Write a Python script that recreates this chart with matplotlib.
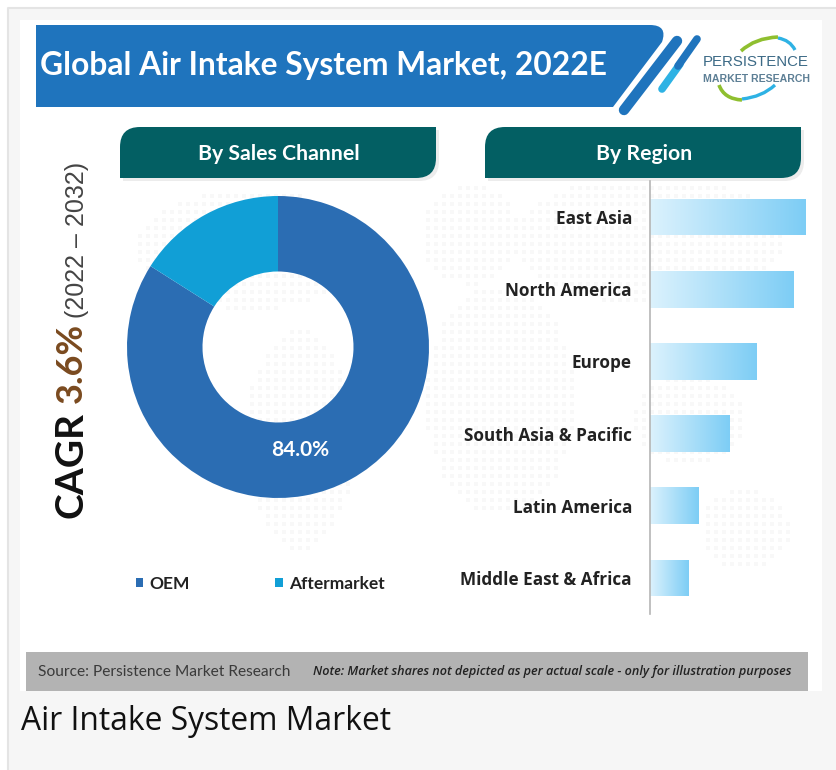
import numpy as np
import matplotlib
matplotlib.use('Agg')
import matplotlib.pyplot as plt
from matplotlib.patches import Rectangle, PathPatch
from matplotlib.path import Path

channels = ['OEM', 'Aftermarket']
channel_share = [84.0, 16.0]
channel_colors = ['#2b6db3', '#119fd6']

regions = ['East Asia', 'North America', 'Europe', 'South Asia & Pacific',
           'Latin America', 'Middle East & Africa']
region_index = [100, 92, 68, 51, 31, 25]

W, H = 836, 770
fig = plt.figure(figsize=(W / 100, H / 100), dpi=100, facecolor='#f6f6f6')
plt.rcParams['font.family'] = ['Open Sans', 'DejaVu Sans']


def header_path(x0, y0, x1, y1, r):
    # rounded top-left and bottom-right corners only
    verts = [(x0, y1), (x0, y0 + r), (x0, y0), (x0 + r, y0), (x1, y0), (x1, y1 - r),
             (x1, y1), (x1 - r, y1), (x0, y1)]
    codes = [Path.MOVETO, Path.LINETO, Path.CURVE3, Path.CURVE3, Path.LINETO, Path.LINETO,
             Path.CURVE3, Path.CURVE3, Path.CLOSEPOLY]
    return Path(verts, codes)


# page, in pixels
bg = fig.add_axes([0, 0, 1, 1])
bg.set_xlim(0, W)
bg.set_ylim(H, 0)
bg.axis('off')
bg.add_patch(Rectangle((0, 0), W, 8, color='white', lw=0))
bg.add_patch(Rectangle((0, 0), 8, H, color='white', lw=0))
bg.plot([8, 8, W], [H, 8, 8], color='#e4e4e4', lw=1.5)
bg.add_patch(Rectangle((20, 20), 802, 671, color='white', lw=0))

# faint dotted world map
gx, gy = np.meshgrid(np.arange(132, 800, 8), np.arange(188, 640, 8))
blobs = [(250, 250, 115, 60), (300, 440, 55, 110), (470, 235, 50, 50), (500, 400, 75, 115),
         (650, 240, 135, 65), (690, 420, 55, 45), (745, 530, 45, 40)]
mask = np.zeros(gx.shape, dtype=bool)
for cx, cy, rx, ry in blobs:
    mask |= ((gx - cx) / rx) ** 2 + ((gy - cy) / ry) ** 2 < 1
bg.scatter(gx[mask], gy[mask], s=9, marker='s', color='#f8f8f8', lw=0)

# title banner
banner = Path([(36, 25), (650, 25), (668, 25), (662, 42), (613, 107), (36, 107), (36, 25)],
              [Path.MOVETO, Path.LINETO, Path.CURVE3, Path.CURVE3, Path.LINETO, Path.LINETO,
               Path.CLOSEPOLY])
bg.add_patch(PathPatch(banner, fc='#1f74bd', ec='none'))
bg.plot([677, 624], [41, 110], color='#1f74bd', lw=7.5, solid_capstyle='round')
bg.plot([680, 662], [64, 89], color='#2eb2e4', lw=5.5, solid_capstyle='round')
bg.plot([697, 678], [39, 66], color='#1f74bd', lw=5.5, solid_capstyle='round')
bg.text(40, 65, 'Global Air Intake System Market, 2022E', color='white', fontsize=22.9,
        fontweight='bold', family=['Lato', 'DejaVu Sans'], va='center')

# logo
for verts, col, lw in [([(741, 51), (755, 38), (778, 37)], '#8fbf2f', 2.6),
                       ([(778, 38), (790, 40), (795, 50)], '#2eb2e4', 2.4),
                       ([(719, 85), (724, 99), (742, 100)], '#8fbf2f', 2.6),
                       ([(742, 99), (762, 97), (775, 85)], '#2eb2e4', 2.4)]:
    bg.add_patch(PathPatch(Path(verts, [Path.MOVETO, Path.CURVE3, Path.CURVE3]),
                           fc='none', ec=col, lw=lw))
bg.text(755.5, 62, 'PERSISTENCE', color='#3c6a86', fontsize=10.8, ha='center', va='center',
        family=['Liberation Sans Narrow', 'Liberation Sans'])
bg.text(756.5, 79, 'MARKET RESEARCH', color='#5d7f95', fontsize=7.6, ha='center', va='center',
        fontweight='bold', family=['Liberation Sans', 'DejaVu Sans'])

# section headers
for x0, x1, label in [(120, 436, 'By Sales Channel'), (485, 801, 'By Region')]:
    bg.add_patch(PathPatch(header_path(x0 + 3, 130, x1 + 3, 181, 20), fc='#ececec', ec='none'))
    bg.add_patch(PathPatch(header_path(x0, 127, x1, 178, 20), fc='#035f63', ec='none'))
    bg.text((x0 + x1) / 2 + 1, 154, label, color='white', fontsize=15.3, fontweight='bold',
            ha='center', va='center', family=['Lato', 'DejaVu Sans'])

# rotated CAGR text
bg.text(82, 518, 'CAGR', color='#111111', fontsize=28, fontweight='bold', rotation=90,
        rotation_mode='anchor', ha='left', va='baseline', family=['Lato', 'DejaVu Sans'])
bg.text(82, 403, '3.6%', color='#7a4a1f', fontsize=26, fontweight='bold', rotation=90,
        rotation_mode='anchor', ha='left', va='baseline', family=['Lato', 'DejaVu Sans'])
bg.text(84, 318, '(2022 – 2032)', color='#444444', fontsize=18, rotation=90,
        rotation_mode='anchor', ha='left', va='baseline', family=['Liberation Sans', 'DejaVu Sans'])

# footer
bg.add_patch(Rectangle((26, 652), 782, 39, color='#b3b3b3', lw=0))
bg.text(38, 672, 'Source: Persistence Market Research', color='#3a3a3a', fontsize=11.2, va='center',
        family=['Lato', 'DejaVu Sans'])
bg.text(313, 672, 'Note: Market shares not depicted as per actual scale - only for illustration purposes',
        color='#222222', fontsize=9.05, style='italic', fontweight='semibold', va='center')
bg.text(21, 721, 'Air Intake System Market', color='#111111', fontsize=22.9, va='center')

# donut
ax1 = fig.add_axes([127 / W, 1 - 498 / H, 302 / W, 302 / H])
ax1.patch.set_alpha(0)
wedges, _ = ax1.pie(channel_share, colors=channel_colors, startangle=90, counterclock=False,
                    radius=1, wedgeprops=dict(width=0.5, edgecolor='none'))
ax1.set_xlim(-1, 1)
ax1.set_ylim(-1, 1)
ax1.text(0.15, -0.68, '%.1f%%' % channel_share[0], color='white', fontsize=15, fontweight='bold',
         ha='center', va='center', family=['Lato', 'DejaVu Sans'])
leg = ax1.legend(wedges, channels, loc='center left', bbox_to_anchor=(120 / W, 1 - 584 / H),
                 bbox_transform=fig.transFigure, ncols=2, frameon=False,
                 handlelength=0.45, handleheight=0.45, handletextpad=0.35, columnspacing=4.9,
                 prop=dict(family=['Lato', 'DejaVu Sans'], weight='bold', size=12.5))
for txt in leg.get_texts():
    txt.set_color('#222222')

# region bars
ax2 = fig.add_axes([650 / W, 1 - 614 / H, 156 / W, 433 / H])
ax2.patch.set_alpha(0)
y = np.arange(len(regions))
bars = ax2.barh(y, region_index, height=0.51, color='#a9dff8', lw=0)
grad = np.linspace(0, 1, 256).reshape(1, -1)
cmap = matplotlib.colors.LinearSegmentedColormap.from_list('bar', ['#dcf2fd', '#7dcdf5'])
for bar in bars:
    b = bar.get_bbox()
    im = ax2.imshow(grad, extent=[b.x0, b.x1, b.y1, b.y0], cmap=cmap, aspect='auto', zorder=2)
    im.set_clip_path(bar)
ax2.set_xlim(0, 100)
ax2.set_ylim(5.5, -0.5)
ax2.set_yticks(y, regions, fontsize=12.3, fontweight='bold', color='#222222')
ax2.tick_params(axis='y', length=0, pad=13)
ax2.set_xticks([])
for s in ['top', 'right', 'bottom']:
    ax2.spines[s].set_visible(False)
ax2.spines['left'].set_color('#b5b5b5')
ax2.spines['left'].set_linewidth(1.2)

fig.savefig('out.png', dpi=100, facecolor=fig.get_facecolor())
